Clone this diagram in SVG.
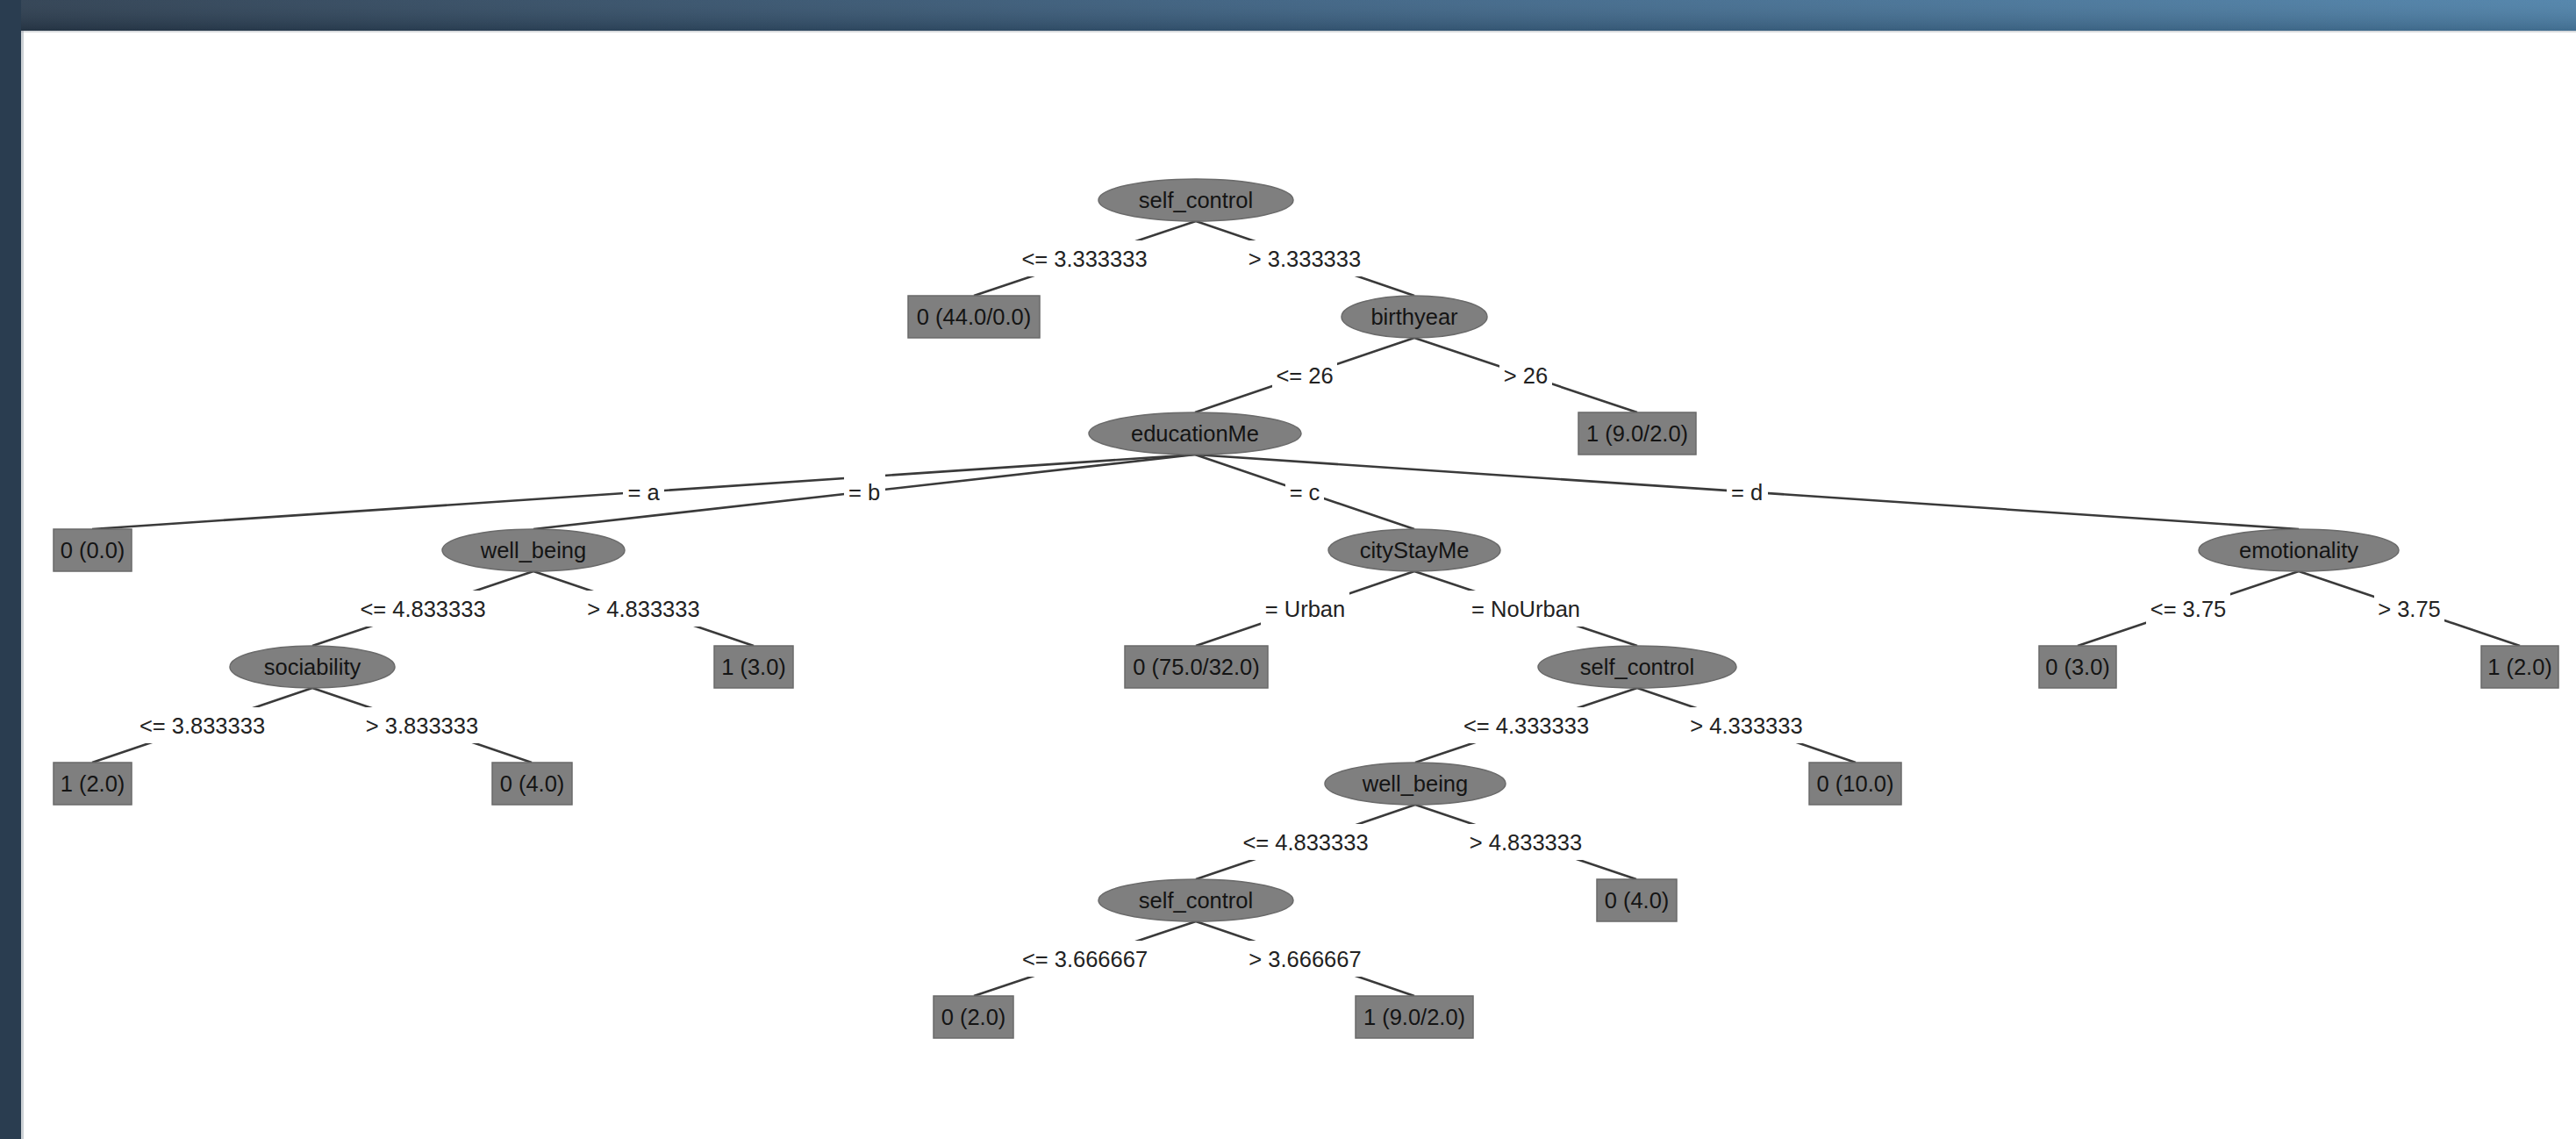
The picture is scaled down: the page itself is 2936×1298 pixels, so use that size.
<svg xmlns="http://www.w3.org/2000/svg" width="2936" height="1298" viewBox="0 0 2936 1298">
<defs>
<linearGradient id="bar" x1="0" y1="0" x2="1" y2="0">
<stop offset="0" stop-color="#2a3b4d"/>
<stop offset="0.5" stop-color="#3a5f80"/>
<stop offset="1" stop-color="#4c80a8"/>
</linearGradient>
<linearGradient id="barv" x1="0" y1="0" x2="0" y2="1">
<stop offset="0" stop-color="#ffffff" stop-opacity="0.06"/>
<stop offset="1" stop-color="#000000" stop-opacity="0.15"/>
</linearGradient>
</defs>
<style>
.n ellipse{fill:#7f7f7f;stroke:#6a6a6a;stroke-width:1.5}
.l rect{fill:#7f7f7f;stroke:#6a6a6a;stroke-width:1.5}
text{font-family:"Liberation Sans",Arial,sans-serif;font-size:25.5px;fill:#141414;text-anchor:middle;dominant-baseline:central}
#connectors line{stroke:#3a3a3a;stroke-width:2.6}
#connectors rect{fill:#ffffff}
#connectors text{fill:#222222}
</style>
<rect x="0" y="0" width="2936" height="1298" fill="#ffffff"/>
<rect x="0" y="0" width="2936" height="35" fill="url(#bar)"/>
<rect x="0" y="0" width="2936" height="35" fill="url(#barv)"/>
<rect x="0" y="0" width="24" height="1298" fill="#2a3d50"/>
<rect x="24" y="35" width="3" height="1263" fill="#9aa3ab" opacity="0.5"/>
<rect x="24" y="35" width="2912" height="2" fill="#9aa3ab" opacity="0.4"/>

<g id="connectors">
<line x1="1363" y1="252" x2="1110" y2="337"/>
<line x1="1363" y1="252" x2="1612" y2="337"/>
<line x1="1612" y1="385" x2="1362" y2="470"/>
<line x1="1612" y1="385" x2="1866" y2="470"/>
<line x1="1362" y1="518" x2="105" y2="603"/>
<line x1="1362" y1="518" x2="608" y2="603"/>
<line x1="1362" y1="518" x2="1612" y2="603"/>
<line x1="1362" y1="518" x2="2620" y2="603"/>
<line x1="608" y1="651" x2="356" y2="736"/>
<line x1="608" y1="651" x2="859" y2="736"/>
<line x1="1612" y1="651" x2="1363" y2="736"/>
<line x1="1612" y1="651" x2="1866" y2="736"/>
<line x1="2620" y1="651" x2="2368" y2="736"/>
<line x1="2620" y1="651" x2="2872" y2="736"/>
<line x1="356" y1="784" x2="105" y2="869"/>
<line x1="356" y1="784" x2="606" y2="869"/>
<line x1="1866" y1="784" x2="1613" y2="869"/>
<line x1="1866" y1="784" x2="2115" y2="869"/>
<line x1="1613" y1="917" x2="1363" y2="1002"/>
<line x1="1613" y1="917" x2="1865" y2="1002"/>
<line x1="1363" y1="1050" x2="1110" y2="1135"/>
<line x1="1363" y1="1050" x2="1612" y2="1135"/>

<rect x="1160" y="274" width="152" height="41"/><text x="1236" y="294.5">&lt;= 3.333333</text>
<rect x="1418" y="274" width="138" height="41"/><text x="1487" y="294.5">&gt; 3.333333</text>
<rect x="1450" y="407" width="74" height="41"/><text x="1487" y="427.5">&lt;= 26</text>
<rect x="1709" y="407" width="60" height="41"/><text x="1739" y="427.5">&gt; 26</text>
<rect x="710" y="540" width="47" height="41"/><text x="733.5" y="560.5">= a</text>
<rect x="962" y="540" width="47" height="41"/><text x="985" y="560.5">= b</text>
<rect x="1465" y="540" width="44" height="41"/><text x="1487" y="560.5">= c</text>
<rect x="1968" y="540" width="47" height="41"/><text x="1991" y="560.5">= d</text>
<rect x="406" y="673" width="152" height="41"/><text x="482" y="693.5">&lt;= 4.833333</text>
<rect x="664" y="673" width="138" height="41"/><text x="733.5" y="693.5">&gt; 4.833333</text>
<rect x="1437" y="673" width="101" height="41"/><text x="1487.5" y="693.5">= Urban</text>
<rect x="1673" y="673" width="132" height="41"/><text x="1739" y="693.5">= NoUrban</text>
<rect x="2446" y="673" width="96" height="41"/><text x="2494" y="693.5">&lt;= 3.75</text>
<rect x="2706" y="673" width="80" height="41"/><text x="2746" y="693.5">&gt; 3.75</text>
<rect x="154" y="806" width="152" height="41"/><text x="230.5" y="826.5">&lt;= 3.833333</text>
<rect x="412" y="806" width="138" height="41"/><text x="481" y="826.5">&gt; 3.833333</text>
<rect x="1663" y="806" width="152" height="41"/><text x="1739.5" y="826.5">&lt;= 4.333333</text>
<rect x="1921" y="806" width="138" height="41"/><text x="1990.5" y="826.5">&gt; 4.333333</text>
<rect x="1412" y="939" width="152" height="41"/><text x="1488" y="959.5">&lt;= 4.833333</text>
<rect x="1670" y="939" width="138" height="41"/><text x="1739" y="959.5">&gt; 4.833333</text>
<rect x="1160" y="1072" width="152" height="41"/><text x="1236.5" y="1092.5">&lt;= 3.666667</text>
<rect x="1418" y="1072" width="138" height="41"/><text x="1487.5" y="1092.5">&gt; 3.666667</text>
</g>

<g id="n-root" class="n"><ellipse cx="1363" cy="228" rx="111" ry="24"/><text x="1363" y="228">self_control</text></g>
<g id="l-44" class="l"><rect x="1035" y="337" width="150" height="48"/><text x="1110" y="361">0 (44.0/0.0)</text></g>
<g id="n-birthyear" class="n"><ellipse cx="1612" cy="361" rx="83" ry="24"/><text x="1612" y="361">birthyear</text></g>
<g id="n-education" class="n"><ellipse cx="1362" cy="494" rx="121" ry="24"/><text x="1362" y="494">educationMe</text></g>
<g id="l-9a" class="l"><rect x="1799" y="470" width="134" height="48"/><text x="1866" y="494">1 (9.0/2.0)</text></g>
<g id="l-00" class="l"><rect x="61" y="603" width="89" height="48"/><text x="105.5" y="627">0 (0.0)</text></g>
<g id="n-wellbeing1" class="n"><ellipse cx="608" cy="627" rx="104" ry="24"/><text x="608" y="627">well_being</text></g>
<g id="n-city" class="n"><ellipse cx="1612" cy="627" rx="98" ry="24"/><text x="1612" y="627">cityStayMe</text></g>
<g id="n-emotion" class="n"><ellipse cx="2620" cy="627" rx="114" ry="24"/><text x="2620" y="627">emotionality</text></g>
<g id="n-sociability" class="n"><ellipse cx="356" cy="760" rx="94" ry="24"/><text x="356" y="760">sociability</text></g>
<g id="l-13" class="l"><rect x="814" y="736" width="90" height="48"/><text x="859" y="760">1 (3.0)</text></g>
<g id="l-75" class="l"><rect x="1282" y="736" width="163" height="48"/><text x="1363.5" y="760">0 (75.0/32.0)</text></g>
<g id="n-selfcontrol2" class="n"><ellipse cx="1866" cy="760" rx="113" ry="24"/><text x="1866" y="760">self_control</text></g>
<g id="l-03" class="l"><rect x="2324" y="736" width="88" height="48"/><text x="2368" y="760">0 (3.0)</text></g>
<g id="l-12b" class="l"><rect x="2828" y="736" width="88" height="48"/><text x="2872" y="760">1 (2.0)</text></g>
<g id="l-12a" class="l"><rect x="61" y="869" width="89" height="48"/><text x="105.5" y="893">1 (2.0)</text></g>
<g id="l-04a" class="l"><rect x="561" y="869" width="91" height="48"/><text x="606.5" y="893">0 (4.0)</text></g>
<g id="n-wellbeing2" class="n"><ellipse cx="1613" cy="893" rx="103" ry="24"/><text x="1613" y="893">well_being</text></g>
<g id="l-010" class="l"><rect x="2062" y="869" width="105" height="48"/><text x="2114.5" y="893">0 (10.0)</text></g>
<g id="n-selfcontrol3" class="n"><ellipse cx="1363" cy="1026" rx="111" ry="24"/><text x="1363" y="1026">self_control</text></g>
<g id="l-04b" class="l"><rect x="1820" y="1002" width="91" height="48"/><text x="1865.5" y="1026">0 (4.0)</text></g>
<g id="l-02" class="l"><rect x="1064" y="1135" width="91" height="48"/><text x="1109.5" y="1159">0 (2.0)</text></g>
<g id="l-9b" class="l"><rect x="1545" y="1135" width="134" height="48"/><text x="1612" y="1159">1 (9.0/2.0)</text></g>
</svg>
